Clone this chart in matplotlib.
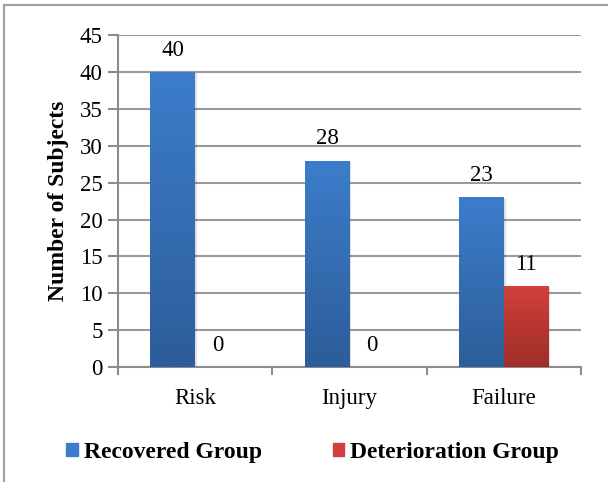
import matplotlib.pyplot as plt
import matplotlib.patches as mpatches
from matplotlib.colors import LinearSegmentedColormap
import numpy as np

# data
categories = ["Risk", "Injury", "Failure"]
recovered = [40, 28, 23]
deteriorated = [0, 0, 11]
series_names = ["Recovered Group", "Deterioration Group"]
y_ticks = list(range(0, 50, 5))

plt.rcParams["font.family"] = ["Liberation Serif", "DejaVu Serif"]

blue_top, blue_bottom = "#3C7DCB", "#2D5D9A"
red_top, red_bottom = "#D3403B", "#9E2D2A"

fig = plt.figure(figsize=(6.08, 4.82), dpi=100)
ax = fig.add_axes([0.194, 0.2386, 0.7616, 0.927 - 0.2386])

x = np.arange(len(categories))
width = 0.29


def gradient_bars(ax, xs, heights, top, bottom):
    cmap = LinearSegmentedColormap.from_list("g", [bottom, top])
    bars = ax.bar(xs, heights, width, color=top, zorder=3, linewidth=0)
    grad = np.linspace(0, 1, 256).reshape(-1, 1)
    for b in bars:
        h = b.get_height()
        if h <= 0:
            continue
        x0 = b.get_x()
        # soft shadow
        sh = mpatches.Rectangle((x0 + 0.012, 0), b.get_width(), h - 0.15,
                                color="#000000", alpha=0.12, zorder=2,
                                linewidth=0)
        ax.add_patch(sh)
        im = ax.imshow(grad, extent=[x0, x0 + b.get_width(), 0, h],
                       origin="lower", cmap=cmap, aspect="auto", zorder=4)
        im.set_clip_path(b)
    return bars


gradient_bars(ax, x - width / 2, recovered, blue_top, blue_bottom)
gradient_bars(ax, x + width / 2, deteriorated, red_top, red_bottom)

for xi, v in zip(x - width / 2, recovered):
    ax.text(xi, v + 1.5, str(v), ha="center", va="bottom", fontsize=16.5)
for xi, v in zip(x + width / 2, deteriorated):
    ax.text(xi, v + 1.5, str(v), ha="center", va="bottom", fontsize=16.5)

ax.set_xlim(-0.5, len(categories) - 0.5)
ax.set_ylim(0, 45)
ax.set_yticks(y_ticks)
ax.set_yticklabels([str(t) for t in y_ticks], fontsize=16.5)
ax.set_xticks(x)
ax.set_xticklabels(categories, fontsize=16.5)
ax.set_xticks(np.arange(-0.5, len(categories)), minor=True)
ax.tick_params(axis="x", which="major", length=0, pad=15)
ax.tick_params(axis="x", which="minor", length=6, width=1.5, color="#8c8c8c")
ax.tick_params(axis="y", length=7, width=1.5, color="#8c8c8c", pad=4)

ax.yaxis.grid(True, color="#9a9a9a", linewidth=1.5, zorder=0)
ax.set_axisbelow(True)
for s in ["top", "right"]:
    ax.spines[s].set_visible(False)
for s in ["left", "bottom"]:
    ax.spines[s].set_color("#8c8c8c")
    ax.spines[s].set_linewidth(1.5)

ax.set_ylabel("Number of Subjects", fontsize=17, fontweight="bold", labelpad=8)

handles = [mpatches.Patch(color=blue_top), mpatches.Patch(color=red_top)]
fig.legend(handles, series_names, loc="center", bbox_to_anchor=(0.514, 0.062),
           ncol=2, frameon=False, prop={"weight": "bold", "size": 17},
           handlelength=0.5, handleheight=0.5, handletextpad=0.25,
           columnspacing=3.0)

# outer frame (right and bottom edges fall outside the picture)
frame = mpatches.Rectangle((4 / 608, -0.1), 1.2, 1 - 5 / 482 + 0.1,
                           transform=fig.transFigure, fill=False,
                           edgecolor="#a0a0a0", linewidth=1.5)
fig.patches.append(frame)

fig.savefig("out.png", dpi=100)
